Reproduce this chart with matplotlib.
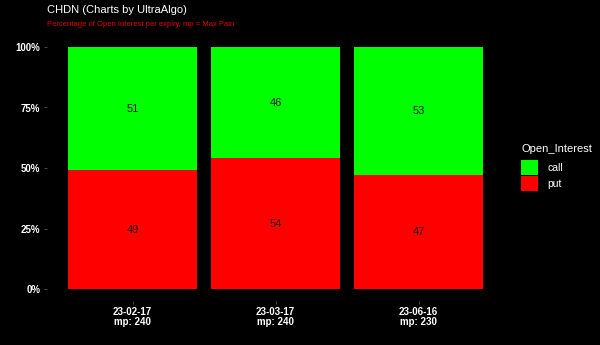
import numpy as np
import matplotlib
matplotlib.use("Agg")
import matplotlib.pyplot as plt
from matplotlib.patches import Patch

expiries = ["23-02-17", "23-03-17", "23-06-16"]
max_pain = [240, 240, 230]
call_pct = [51, 46, 53]
put_pct = [49, 54, 47]

plt.rcParams["font.family"] = ["Liberation Sans", "DejaVu Sans"]

fig = plt.figure(figsize=(6.0, 3.45), dpi=100, facecolor="black")
W, H = 600, 345
left, right, top, bottom = 46.7, 504.3, 34.9, 301.1
ax = fig.add_axes([left / W, 1 - bottom / H, (right - left) / W, (bottom - top) / H])
ax.set_facecolor("black")

x = np.arange(len(expiries))
put = np.array(put_pct) / 100
call = np.array(call_pct) / 100
ax.bar(x, put, width=0.9, color="#FF0000")
ax.bar(x, call, width=0.9, bottom=put, color="#00FF00")

for i in range(len(x)):
    ax.text(x[i], put[i] / 2, str(put_pct[i]), ha="center", va="center", fontsize=8, color="#1a1a1a")
    ax.text(x[i], put[i] + call[i] / 2, str(call_pct[i]), ha="center", va="center", fontsize=8, color="#1a1a1a")

ax.set_xlim(-0.6, len(x) - 0.4)
ax.set_ylim(-0.05, 1.05)
ax.set_yticks([0, 0.25, 0.5, 0.75, 1.0])
ax.set_yticklabels(["0%", "25%", "50%", "75%", "100%"])
ax.set_xticks(x)
ax.set_xticklabels([f"{e}\nmp: {m}" for e, m in zip(expiries, max_pain)], linespacing=0.9)
ax.tick_params(axis="both", colors="#555555", labelcolor="white", length=2.5, width=0.6, pad=2)
for lab in ax.get_xticklabels() + ax.get_yticklabels():
    lab.set_fontweight("bold")
    lab.set_fontsize(7)
for s in ax.spines.values():
    s.set_visible(False)

fig.text(47 / W, 1 - 10 / H, "CHDN (Charts by UltraAlgo)", color="white", fontsize=8, va="center", ha="left")
fig.text(47 / W, 1 - 24 / H, "Percentage of Open Interest per expiry, mp = Max Pain", color="#E00000",
         fontsize=5.5, va="center", ha="left")

# legend: title placed separately to get ggplot-like spacing
fig.text(521 / W, 1 - 149 / H, "Open_Interest", color="white", fontsize=8, va="center", ha="left")
handles = [Patch(facecolor="#00FF00", label="call"), Patch(facecolor="#FF0000", label="put")]
leg = fig.legend(handles=handles, loc="upper left",
                 bbox_to_anchor=(517 / W, 1 - 156 / H), frameon=False, fontsize=7.5,
                 handlelength=1.6, handleheight=1.75, labelspacing=0.15,
                 handletextpad=0.9, borderpad=0.4, borderaxespad=0)
for t in leg.get_texts():
    t.set_color("white")

fig.savefig("out.png", dpi=100, facecolor="black")
